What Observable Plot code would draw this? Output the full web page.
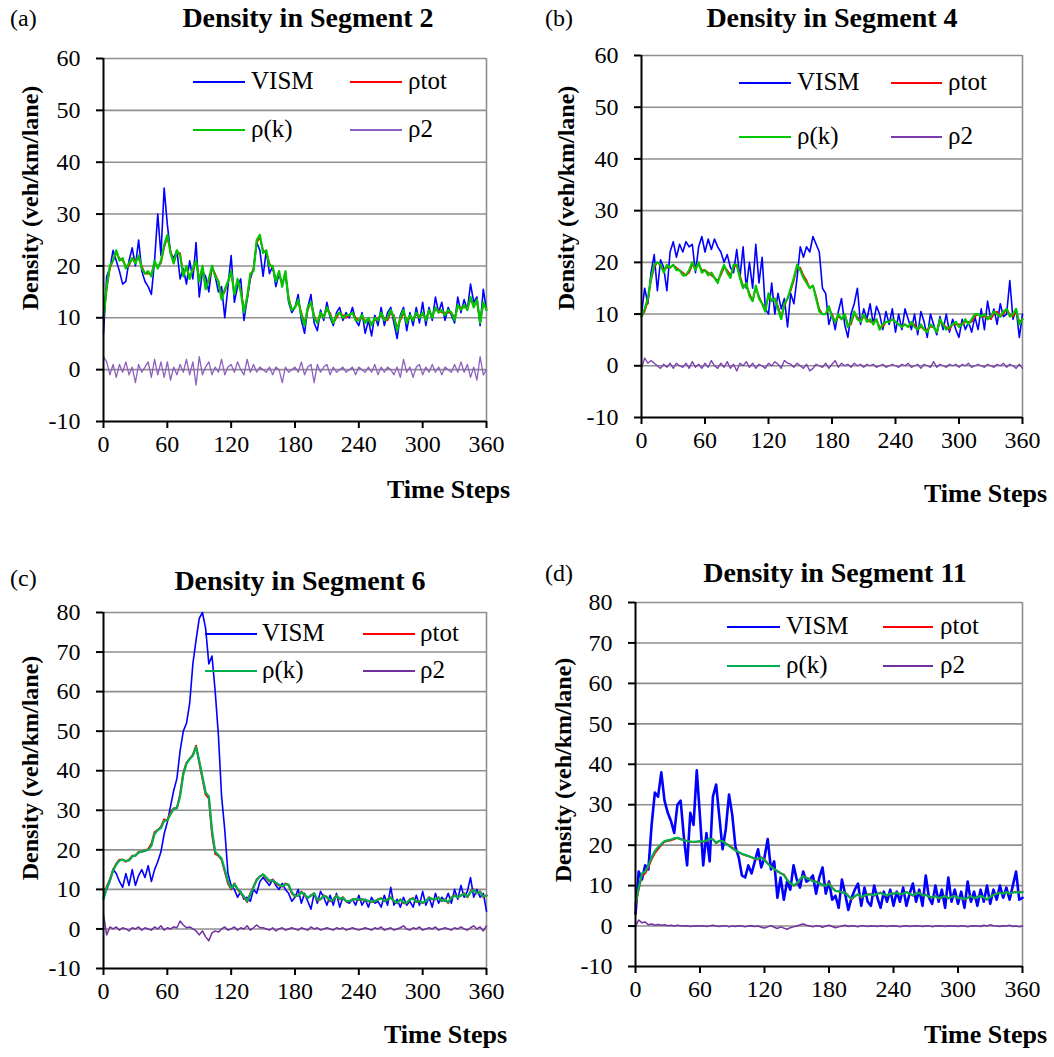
<!DOCTYPE html>
<html>
<head>
<meta charset="utf-8">
<script src="https://cdn.jsdelivr.net/npm/d3@7"></script>
<script src="https://cdn.jsdelivr.net/npm/@observablehq/plot@0.6"></script>
<style>
  html, body { margin: 0; padding: 0; background: #fff; }
  #root { position: relative; width: 1054px; height: 1057px; background: #fff; overflow: hidden;
          font-family: "Liberation Serif", "DejaVu Serif", "Times New Roman", serif; color: #000; }
  #root svg, #root svg text { font-family: "Liberation Serif", "DejaVu Serif", "Times New Roman", serif !important; }
  .abs { position: absolute; white-space: nowrap; }
  .title { font-weight: bold; font-size: 28px; transform: translate(-50%, -50%); }
  .letter { font-size: 24px; transform: translate(0, -50%); }
  .xlab { font-weight: bold; font-size: 26px; transform: translate(-100%, -50%); }
  .ylab { font-weight: bold; font-size: 24px; transform: translate(-50%, -50%) rotate(-90deg); }
  .legtxt { font-size: 25px; transform: translate(0, -52%); }
  .sw { position: absolute; }
</style>
</head>
<body>
<div id="root"></div>
<script>
// ---------- shared axes ----------
const T = d3.range(0, 361, 3);            // time steps sampled every 3 steps
const xTicks = [0, 60, 120, 180, 240, 300, 360];
const yTicks60 = [-10, 0, 10, 20, 30, 40, 50, 60];
const yTicks80 = [-10, 0, 10, 20, 30, 40, 50, 60, 70, 80];
const seriesNames = ["VISM", "ρtot", "ρ(k)", "ρ2"];
const SERIF = "Liberation Serif, DejaVu Serif, Times New Roman, serif";

// ---------- Segment 2 ----------
const vismA = [7,18,19.5,23,21,19,16.5,17,21,23.5,
  20,25,19,17,16,14.5,21,30,22,35,
  28,22.5,21.5,23,17.5,19.5,16.5,21,17.5,24.5,
  14,19,18,15,20,18,15,16,10,16,
  22,13,16,17.5,9.5,13.5,17.5,19.5,24.5,23,
  18,23,18.5,20,16,18.5,16.5,18.5,13,11,
  12,14.5,9.5,7,12,14.5,9,7.5,11.5,9.5,
  13,10,8.5,11,12,9.5,11,10,12,9.5,
  8.5,11,7,9.5,6.5,10.5,8.5,12,8.5,11,
  12,9,6,10.5,12,7.5,11,8.5,12,9,
  13,8.5,12,9.5,14,11,13,9.5,12,10.5,
  9,14,11,13.5,11.5,16.5,13,14,8.5,15.5,
  11.5];
const totA = [10,15.5,19.5,21,22.5,21.5,21,20,20,21.5,
  21,21.5,20,18.5,18.5,18.5,20.5,20,20.5,23.5,
  25.5,23,20.5,22.5,22.5,18.5,19.5,18,19,21,
  17.5,19.5,16,17,19.5,18.5,17,14,15,17,
  18.5,15,17,15.5,11.5,13.5,18,19.5,24.5,25.5,
  23,22.5,20.5,19.5,17.5,18.5,16.5,18.5,14,11.5,
  12,13,11,9,11.5,13,10.5,9,10.5,10.5,
  11.5,11,9,10,11,10.5,10,10.5,11,10,
  9.5,10,9.5,9.5,9,9.5,10,10.5,10,9.5,
  11,10.5,8,9.5,11,9.5,10,10,10.5,10.5,
  10.5,10,11,10.5,11.5,11.5,11,11,11,11,
  10,12,12,12,12,13.5,12.5,13,9.5,12.5,
  12];
const rkA = [10,16,20,21,23,21,21.5,19.5,20.5,21.5,
  20.5,22,19.5,18.5,19,18,21,19.5,21,24,
  26,22.5,20.5,23,22,18,20,17.5,19.5,21,
  17,20,15.5,17.5,20,18,17,13.5,15.5,17,
  19,14.5,17.5,15,11,14,18.5,19,25,26,
  22.5,23,20,20,17,19,16,19,13.5,11.5,
  12,13.5,10.5,8.5,12,13,10,9,11,10,
  12,10.5,9,10.5,11,10,10.5,10.5,11,9.5,
  9.5,10.5,9,10,8.5,10,9.5,11,9.5,10,
  11.5,10,7.5,10,11.5,9,10.5,9.5,11,10,
  11,9.5,11.5,10,12,11,11.5,10.5,11.5,11,
  9.5,12.5,11.5,12.5,11.5,14,12,13.5,9,13,
  11.5];
const r2A = [2.5,1.5,-1,1,-1.5,1,-0.5,1.5,-1,0.5,
  -2.5,1,-0.5,0.5,1.5,-1.5,2,-1,1.5,-1.5,
  1.5,-2,0.5,-1,1,-0.5,2,-1,1.5,-3,
  2.5,-1,0.5,1.5,-1,0.5,-0.5,2,-1,0.5,
  1,-0.5,1.5,0,-1,2,-0.5,1,-0.5,0.5,
  0,-0.5,0.5,-1,0.5,0,-2.5,0.5,-0.5,0,
  0.5,-0.5,1.5,-1,0.5,1,-2.5,1,-0.5,0.5,
  1,-1,0.5,-0.5,0,0.5,-0.5,0,0.5,-1,
  0.5,0,-0.5,0.5,-0.5,1,-1,0.5,-0.5,0.5,
  0,-1,0.5,-1.5,2,-0.5,0.5,-1.5,0.5,1,
  -1,0.5,-0.5,1,-0.5,0.5,-1,0.5,0,-0.5,
  1,-0.5,1.5,-0.5,1,-1.5,0.5,-2,2.5,-1,
  0];

// ---------- Segment 4 ----------
const vismB = [10,15,12,18,21.5,14.5,20.5,19,14.5,22,
  24,21,23.5,22,24,23,23.5,18,23,25,
  22,24.5,22.5,24.5,23,22,20,21.5,19,18,
  22.5,17,23,15,20,15,23.5,16,21,11,
  10,16,10,14,11,13,7.5,14,12,17,
  23,21,23,22,25,23.5,22,15,14,8,
  10,7,10.5,13,8,5.5,10,12,15,8,
  11,9,12,8,11.5,10,7,10.5,8,11,
  6.5,10,7,11,9,7,10,6,10.5,8.5,
  5.5,10,8,6,9.5,7,10,6.5,9,7,
  5.5,9,7,8.5,6.5,9.5,7,11,7,12.5,
  9,11,8,12,9.5,10,16.5,9,11,5.5,
  10];
const totB = [9.5,10.5,12.5,16.5,19,20,19.5,18.5,19,19,
  19.5,19,18.5,18,17.5,18,19.5,19,19.5,18.5,
  18.5,18,17.5,17,16.5,17.5,19,18.5,17.5,19,
  19.5,17.5,15.5,15.5,14,12.5,15,13.5,12,11,
  13.5,12.5,13,11.5,9.5,11.5,13,14.5,16.5,19,
  19,17.5,16.5,15,15.5,13.5,11,10,10,11,
  10,8.5,9.5,9,10,8,8,10,9.5,8.5,
  9.5,9,8.5,8.5,9,7.5,7.5,8.5,8.5,9,
  8.5,8,7.5,8,7.5,8,8,7,7.5,7,
  7,7.5,7.5,6.5,8.5,8,7.5,7,8,8,
  8,8,8.5,8.5,8.5,9.5,10,9.5,9.5,9.5,
  9,10,10.5,9.5,10,11,10,9.5,10.5,8.5,
  9];
const rkB = [9.5,11,13,17,19.5,20,19.5,18,19.5,19,
  19.5,18.5,18.5,17.5,17.5,18.5,20,18.5,20,18,
  18.5,17.5,18,17,16,18,19.5,18,17,19.5,
  19.5,17,15,16,13.5,12.5,15.5,13,12,10.5,
  14,12.5,13,11,9,12,13,15,17,19.5,
  18.5,17,16,15,15.5,13,10.5,10,10,11.5,
  9.5,8.5,10,9,10,7.5,8.5,10.5,9,8.5,
  10,8.5,9,8,9,7,8,8.5,8.5,9,
  8.5,8,7.5,8,7.5,8.5,7.5,7,8,7,
  6.5,8,7.5,6.5,9,8,7,7.5,8,8.5,
  7.5,8,9,8,9,10,10,9.5,10,9,
  9.5,10.5,10,9.5,10.5,11,9.5,10,11,8,
  9];
const r2B = [-0.5,1.5,0.5,1,0.5,0,-0.5,0.3,-0.3,0.5,
  -0.5,0.5,0,-0.3,0.5,-0.5,0.8,-0.3,0.3,-0.5,
  0.5,-0.3,1,0,-0.5,0.5,-0.3,0.8,-0.5,0.3,
  -1,0.5,0,0.8,-0.3,0.5,-0.5,0.3,0,-0.5,
  0.5,0,0.8,0.3,-0.5,1,0.5,0.3,-0.3,0.5,
  0,-0.5,0.3,-1,-0.5,0.3,0,-0.3,0.5,-0.5,
  0.3,1,-0.3,0.5,0,0.3,-0.3,0.5,0,0.3,
  -0.3,0.3,0,0.3,-0.3,0,0.3,-0.3,0,0.3,
  0,-0.3,0.3,0,0.5,-0.3,0,0.3,-0.5,0.3,
  0,-0.3,0.8,-0.3,0.3,0,-0.3,0.3,0,0.3,
  -0.3,0.3,0,0.5,-0.3,0,0.3,0,-0.3,0.3,
  0,-0.3,0.3,0,0.5,-0.3,0.3,0,-0.5,0.3,
  -0.5];

// ---------- Segment 6 ----------
const vismC = [10,10,12,15,14,12,10.5,14,11,15,
  11,13.5,15,13,16,12,15,17,19.5,24,
  27,31,35,38,45,50,52,57,67,73,
  78.5,80,76,67,69,60,49,33.5,25,14,
  11,10,8,9.5,7.5,8,7,10,9,12,
  13,12,11,12.5,11,10,11.5,10,9,7,
  8,10,6.5,9,7,5,9,6.5,9.5,8,
  6,8.5,6,9,5.5,8,7,6.5,7.5,6,
  8.5,6,7.5,5.5,8,6.5,7,5.5,8.5,6,
  10.5,6,7.5,5.5,8,6,7,5.5,8.5,6,
  9.5,6,8,5.5,9,6.5,8,7,9,6.5,
  10,7.5,11,8,9.5,13,8,10,8,9,
  4.5];
const totC = [7.8,10.7,12.5,15,16.5,17.5,17.5,17,17.5,18.5,
  18.5,19.5,19.5,19.8,20.2,21.5,24.5,25,25.8,27.7,
  27.4,29.5,30.5,30.5,34,39.5,42,43,44,46.3,
  42,38,34,33,24,19,18.5,17.5,14.5,11.5,
  10,11.5,10,9,8,6.8,9,10.7,12.5,13.3,
  13.7,12.8,12,12.5,11.5,11,10.7,11.5,11,9,
  8.2,8.5,9.4,8.5,7.8,8.5,9,7.2,7.5,8.5,
  8,7,7.5,8.5,7.5,8,7,7,7.5,7.5,
  7.3,7.5,7.2,7,6.8,7,7.5,7.8,7,7.5,
  8,7,6.5,7.5,6.5,6.5,7.5,7.8,6.8,7,
  6.5,7,8,7.5,7.5,8,7,7.5,6.5,8,
  8.5,8,8.5,9,8,9.5,10,9,9.5,8,
  8.5];
const rkC = [7.5,10.3,12.3,14.7,16.3,17.3,17.5,17.2,17.3,18.3,
  18.6,19.3,19.6,19.7,20,21,24,25,25.5,27.3,
  27.5,29,30.3,30.6,33.5,39,41.8,43,43.8,46,
  42.5,38.5,34.5,33.5,25,19.5,18.7,17.8,15,12,
  10.3,11.3,10.2,9.2,8.2,7,8.7,10.5,12.3,13.3,
  13.8,13,12.2,12.3,11.7,11.2,10.8,11.3,11.2,9.3,
  8.3,8.4,9.3,8.7,7.9,8.4,9,7.4,7.5,8.4,
  8.1,7.2,7.4,8.4,7.6,7.9,7.1,7,7.4,7.6,
  7.4,7.5,7.3,7.1,6.9,7,7.4,7.7,7.1,7.4,
  7.9,7.1,6.6,7.4,6.7,6.6,7.4,7.7,6.9,7,
  6.6,7,7.9,7.6,7.5,7.9,7.1,7.4,6.7,7.9,
  8.4,8.1,8.4,8.9,8.1,9.3,9.9,9.1,9.4,8.2,
  8.4];
const r2C = [3.5,-1.5,0.5,0,0.5,-0.3,0.3,0,-0.5,0.3,
  0,0.5,-0.3,0.3,0,-0.3,0.5,0,0.8,-0.3,
  0.3,0,0.5,0.3,2,1,0.3,0.5,0,-0.5,
  -1.5,-0.5,-2,-3,-1,-0.5,-0.8,0,0.5,-0.3,
  0,0.5,-0.3,0.3,0,0.8,-0.3,0.3,1,0.3,
  0.3,0,-0.3,0.3,-0.5,0,0.3,-0.3,0,0.3,
  0,-0.3,0.3,0,-0.3,0.5,0,0.3,-0.3,0,
  0.3,0,-0.3,0.3,0,0.3,-0.3,0,0.3,0,
  -0.3,0,0.3,0,-0.3,0.3,0,0.5,-0.3,0,
  0.3,-0.3,0,0.3,0.8,0,-0.3,0.3,0,0.5,
  -0.3,0,0.3,0,0.5,-0.3,0,0.3,0,-0.3,
  0.3,0,0.5,0,-0.3,0.3,0.8,0,0.5,-0.5,
  0.8];

// ---------- Segment 11 ----------
const vismD = [3,13.5,11.5,15,14,25,33,32,38,31,
  28,26,23,30,31,22,15,28,25,38.5,
  27,15,23,16,32,35,27,19,24,32.5,
  27.5,19.5,17,12.5,12,15,13,16,19,14.5,
  17,21.5,14,16,7,12,6.5,11,9,15,
  11.5,9.5,13.5,11,11.5,12.5,8,12,14.5,8,
  11,6.5,7.5,4.5,11.5,8,4,7,9,10.5,
  5,9.5,6,5,10,7,4.5,8.5,6,9,
  5,8.5,6,9.5,5,8,10.5,6,9,5,
  12.5,7,5.5,10,6,9,4.5,12,6,9,
  5.5,8.5,4.5,11,6,8.5,5,9,6,10,
  5.5,9,6.5,10,7,9.5,6.5,10,13.5,6.5,
  7];
const totD = [5,9,12.5,13,14.5,16.5,18,19,20,20.8,
  21,21.2,21.5,21.8,21.5,21.3,21,20.8,20.8,20.8,
  21,20.8,21,21.5,21.5,20.5,21,21,20.5,20,
  19.4,18.8,18.2,17.8,17.5,17.3,17,16.5,16.5,17,
  16.5,15.5,14.8,14,13.5,13,12.8,11.5,10.5,10,
  10.3,11.5,12.4,12,11.6,11.2,11,10.7,10.2,9.9,
  10.7,9.5,8.7,8.5,8.3,8.3,7.5,6.6,7.3,7.9,
  7,7.5,7.8,7.9,7.5,8,8.3,7.8,7.5,8,
  8,8.3,7.8,8,8.5,8,7.5,8,8.3,7.5,
  7.8,7.2,7,7.5,6.8,7,7.5,6.8,7.2,7.5,
  6.8,7,6.5,7,7.5,6.8,7.2,7.5,7,6.5,
  7.2,7.8,8,8.3,8,8.5,8,8.3,8.5,8.3,
  8.5];
const rkD = [5.5,9.5,13,13.5,15,17,18.5,19.5,20.3,21,
  21.2,21.4,21.7,21.8,21.5,21.2,21,20.9,20.8,20.9,
  21,20.9,21.1,21.6,21.4,20.6,21.1,21,20.4,19.8,
  19.2,18.7,18.3,17.9,17.6,17.3,17,16.7,16.6,16.9,
  16.3,15.4,14.7,14.1,13.6,13.1,12.6,11.4,10.6,10.1,
  10.5,11.6,12.3,11.9,11.5,11.1,10.9,10.6,10.2,10,
  10.5,9.4,8.7,8.6,8.4,8.2,7.4,6.8,7.4,7.9,
  7.1,7.6,7.8,7.8,7.6,8,8.2,7.8,7.6,8,
  8,8.2,7.9,8,8.4,8,7.6,8,8.2,7.6,
  7.7,7.3,7.1,7.4,6.9,7.1,7.4,6.9,7.2,7.4,
  6.9,7,6.6,7,7.4,6.9,7.2,7.4,7.1,6.6,
  7.2,7.7,8,8.2,8,8.4,8,8.3,8.4,8.3,
  8.4];
const r2D = [0,1.5,0.8,1,0.3,0.5,0.2,0.4,0.2,0.3,
  0.1,0.2,0,0.2,0.1,0,0.1,-0.1,0,0.1,
  0,0.1,-0.1,0,0.2,0,-0.1,0,0.1,-0.2,
  0,-0.1,0.1,0,-0.2,0,0.1,-0.1,0,-0.3,
  -0.5,-0.2,0.1,-0.3,-0.6,-0.2,-0.5,-0.8,-0.4,-0.2,
  0,0.3,0.5,0.2,0,-0.2,0.1,0,-0.3,0,
  0.2,-0.1,-0.4,-0.2,0,0.2,-0.1,0.1,0,-0.2,
  0.1,0,-0.1,0.1,0,-0.1,0.1,0,-0.1,0,
  0.1,0,-0.2,0,0.1,-0.1,0,0.1,0,-0.1,
  0,0.1,-0.2,0,0.1,0,-0.1,0.1,0,0,
  -0.1,0.1,0,-0.2,0,0.1,0,-0.1,0.2,0,
  0.3,0.1,0,-0.1,0.1,0,0.2,-0.1,0,-0.2,
  0];

// ---------- panel specs ----------
const panels = [
  { letter: "(a)", title: "Density in Segment 2", series: [vismA, totA, rkA, r2A],
    colors: ["#0000FF", "#FF0000", "#00C800", "#9060C0"], widths: [1.6, 1.6, 2.2, 1.3],
    yMax: 60, yTicks: yTicks60,
    box: { left: 0, top: 0, w: 527, h: 520, ml: 103, mr: 41, mt: 58, mb: 99 },
    letterPos: [10, 18], titlePos: [308, 18], xlabPos: [510, 490], ylabPos: [30, 198],
    leg: { rows: [82, 130], cols: [[193, 245, 251], [350, 402, 408]] } },
  { letter: "(b)", title: "Density in Segment 4", series: [vismB, totB, rkB, r2B],
    colors: ["#0000FF", "#FF0000", "#00C800", "#7A3CB0"], widths: [1.6, 1.6, 2.2, 1.3],
    yMax: 60, yTicks: yTicks60,
    box: { left: 527, top: 0, w: 527, h: 520, ml: 114, mr: 32, mt: 55, mb: 103 },
    letterPos: [545, 18], titlePos: [832, 18], xlabPos: [1047, 494], ylabPos: [566, 198],
    leg: { rows: [83, 137], cols: [[739, 791, 797], [891, 942, 948]] } },
  { letter: "(c)", title: "Density in Segment 6", series: [vismC, totC, rkC, r2C],
    colors: ["#0000FF", "#FF0000", "#00B050", "#7030A0"], widths: [1.6, 2.0, 2.2, 1.5],
    yMax: 80, yTicks: yTicks80,
    box: { left: 0, top: 530, w: 527, h: 527, ml: 103, mr: 41, mt: 82, mb: 89 },
    letterPos: [10, 578], titlePos: [300, 581], xlabPos: [507, 1035], ylabPos: [30, 768],
    leg: { rows: [634, 671], cols: [[205, 257, 262], [363, 415, 420]] } },
  { letter: "(d)", title: "Density in Segment 11", series: [vismD, totD, rkD, r2D],
    colors: ["#0000FF", "#FF0000", "#00B050", "#7030A0"], widths: [2.6, 1.8, 2.2, 1.5],
    yMax: 80, yTicks: yTicks80,
    box: { left: 527, top: 530, w: 527, h: 527, ml: 108, mr: 32, mt: 72, mb: 91 },
    letterPos: [545, 573], titlePos: [835, 573], xlabPos: [1047, 1035], ylabPos: [563, 770],
    leg: { rows: [627, 666], cols: [[727, 780, 786], [883, 933, 940]] } }
];

const root = document.getElementById("root");
function addText(cls, txt, x, y) {
  const d = document.createElement("div");
  d.className = "abs " + cls;
  d.textContent = txt;
  d.style.left = x + "px";
  d.style.top = y + "px";
  root.appendChild(d);
}

for (const p of panels) {
  const b = p.box;
  const marks = [
    Plot.ruleY(p.yTicks.filter(d => d > -10), { stroke: "#8f8f8f", strokeWidth: 1.6 }),
    Plot.ruleX([360], { stroke: "#8f8f8f", strokeWidth: 1.6 })
  ];
  p.series.forEach((arr, k) => {
    marks.push(Plot.line(arr.map((v, i) => ({ t: T[i], v })),
      { x: "t", y: "v", stroke: p.colors[k], strokeWidth: p.widths[k], strokeLinejoin: "round" }));
  });
  marks.push(
    Plot.ruleX([0], { stroke: "#000", strokeWidth: 2 }),
    Plot.ruleY([-10], { stroke: "#000", strokeWidth: 2 }),
    Plot.axisX({ ticks: xTicks, tickSize: 7, tickPadding: 6, tickFormat: d => String(d),
      label: null, fontSize: 24, fontFamily: SERIF, strokeWidth: 2, stroke: "#000", fill: "#000" }),
    Plot.axisY({ ticks: p.yTicks, tickSize: 7, tickPadding: 16, tickFormat: d => String(d),
      label: null, fontSize: 24, fontFamily: SERIF, strokeWidth: 2, stroke: "#000", fill: "#000" })
  );
  const chart = Plot.plot({
    width: b.w, height: b.h,
    marginLeft: b.ml, marginRight: b.mr, marginTop: b.mt, marginBottom: b.mb,
    style: { fontFamily: SERIF, fontSize: "24px",
             color: "#000", background: "transparent", overflow: "visible" },
    x: { domain: [0, 360] },
    y: { domain: [-10, p.yMax] },
    marks
  });
  chart.setAttribute("font-family", SERIF);
  chart.querySelectorAll("text").forEach(t => { t.setAttribute("font-family", SERIF); t.style.fontFamily = SERIF; });
  const wrap = document.createElement("div");
  wrap.className = "abs";
  wrap.style.left = b.left + "px";
  wrap.style.top = b.top + "px";
  wrap.appendChild(chart);
  root.appendChild(wrap);

  addText("letter", p.letter, p.letterPos[0], p.letterPos[1]);
  addText("title", p.title, p.titlePos[0], p.titlePos[1]);
  addText("xlab", "Time Steps", p.xlabPos[0], p.xlabPos[1]);
  addText("ylab", "Density (veh/km/lane)", p.ylabPos[0], p.ylabPos[1]);

  // legend (two rows × two columns, transparent like the original)
  seriesNames.forEach((name, k) => {
    const row = p.leg.rows[Math.floor(k / 2)];
    const col = p.leg.cols[k % 2];
    const sw = document.createElement("div");
    sw.className = "sw";
    const lw = Math.max(2, p.widths[k]);
    sw.style.left = col[0] + "px";
    sw.style.width = (col[1] - col[0]) + "px";
    sw.style.top = (row - lw / 2) + "px";
    sw.style.height = lw + "px";
    sw.style.background = p.colors[k];
    root.appendChild(sw);
    addText("legtxt", name, col[2], row);
  });
}
</script>
</body>
</html>
